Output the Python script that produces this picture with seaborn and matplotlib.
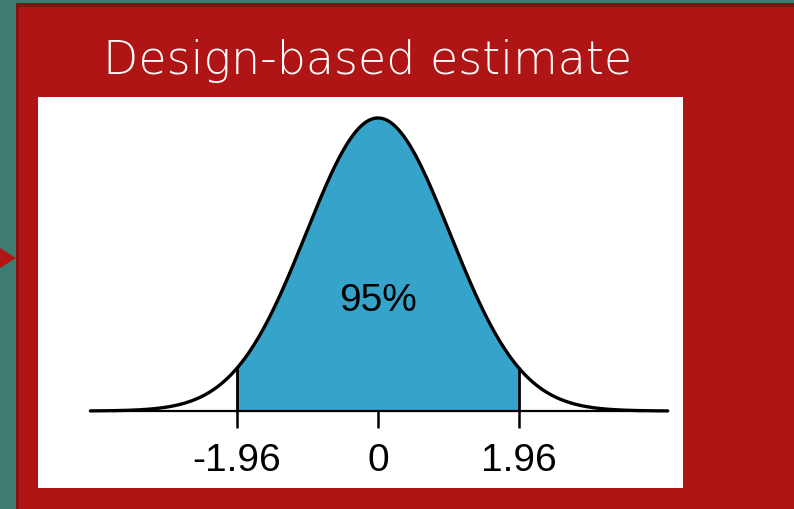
import numpy as np
import pandas as pd
import seaborn as sns
import matplotlib
matplotlib.use("Agg")
import matplotlib.pyplot as plt
from matplotlib.patches import Rectangle, Polygon

# ---- data ----
title = "Design-based estimate"
mean = 0.0
sd = 1.0
crit_low = -1.96
crit_high = 1.96
tick_values = [-1.96, 0, 1.96]
tick_labels = ["-1.96", "0", "1.96"]
area_label = "95%"
x_range = (-4.0, 4.03)
axis_range = (-3.7, 3.7)

# colours
teal = "#3E7C72"
red = "#B01515"
dark_red = "#8C0F0F"
blue = "#36A3CA"

sns.set_theme(style="white")
plt.rcParams['font.family'] = ['Liberation Sans', 'DejaVu Sans']

W, H = 794, 509
fig = plt.figure(figsize=(W / 100, H / 100), dpi=100)
fig.patch.set_facecolor(teal)

def px_rect(x0, y0, x1, y1, color):
    fig.patches.append(Rectangle((x0 / W, 1 - y1 / H), (x1 - x0) / W, (y1 - y0) / H,
                                 transform=fig.transFigure, facecolor=color,
                                 edgecolor="none", zorder=-2))

px_rect(16, 3, W, H, dark_red)
px_rect(19, 7, W, H, red)
fig.patches.append(Polygon([(0, 1 - 248 / H), (16 / W, 1 - 258 / H), (0, 1 - 268 / H)],
                           closed=True, transform=fig.transFigure,
                           facecolor=red, edgecolor="none", zorder=-2))

fig.text(103 / W, 1 - 74 / H, title, color="white", fontsize=33,
         family=['DejaVu Sans'], fontweight='light', va="baseline", ha="left",
         zorder=10)

# white panel axes
ax = fig.add_axes([38 / W, 1 - 488 / H, 645 / W, 391 / H])
ax.set_zorder(5)
ax.set_facecolor("white")

x = np.linspace(x_range[0], x_range[1], 801)
y = np.exp(-0.5 * ((x - mean) / sd) ** 2) / (sd * np.sqrt(2 * np.pi))
df = pd.DataFrame({"x": x, "density": y})

xs = np.linspace(crit_low, crit_high, 400)
ys = np.exp(-0.5 * ((xs - mean) / sd) ** 2) / (sd * np.sqrt(2 * np.pi))
ax.fill_between(xs, 0, ys, color=blue, linewidth=0, zorder=1)

ax.plot(axis_range, [0, 0], color="black", lw=1.6, zorder=2, solid_capstyle="butt")
sns.lineplot(data=df, x="x", y="density", ax=ax, color="black", lw=2.4, zorder=3)

for c in [crit_low, crit_high]:
    yc = np.exp(-0.5 * ((c - mean) / sd) ** 2) / (sd * np.sqrt(2 * np.pi))
    ax.plot([c, c], [0, yc], color="black", lw=2.0, zorder=3)

scale = 734.5  # px per density unit (for tick length)
for tv, tl in zip(tick_values, tick_labels):
    ax.plot([tv, tv], [0, -17 / scale], color="black", lw=1.8, zorder=3,
            solid_capstyle="butt")
    ax.text(tv, -32 / scale, tl, ha="center", va="top", fontsize=28, color="black")

ax.text(mean, (411 - 301) / scale, area_label, ha="center", va="center",
        fontsize=28, color="black", zorder=4)

ax.set_xlim((38 - 378) / 71.9, (683 - 378) / 71.9)
ax.set_ylim((411 - 488) / scale, (411 - 97) / scale)
ax.set_xticks([])
ax.set_yticks([])
ax.set_xlabel("")
ax.set_ylabel("")
for s in ax.spines.values():
    s.set_visible(False)

fig.savefig("out.png", dpi=100, facecolor=fig.get_facecolor())
